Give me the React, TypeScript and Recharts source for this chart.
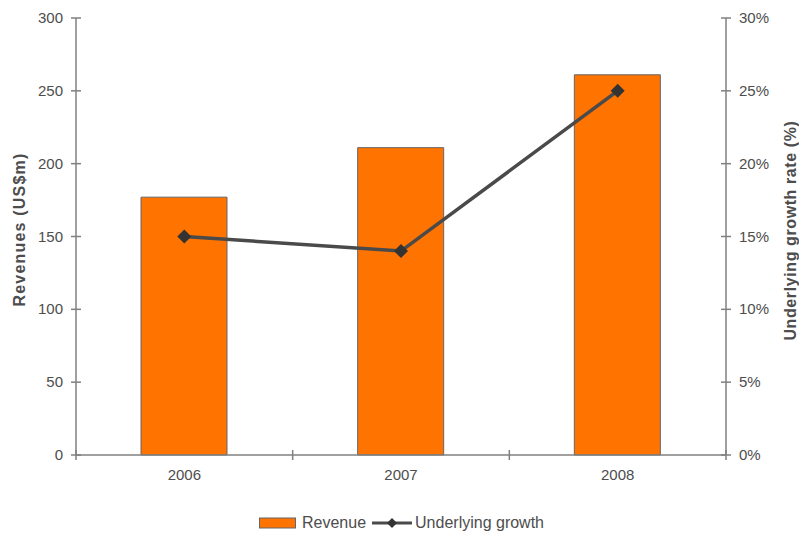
import React from 'react';
import { ComposedChart, Bar, Line, XAxis, YAxis, Legend } from 'recharts';

const years = ['2006', '2007', '2008'];
const revenue = [177, 211, 261];
const growth = [15, 14, 25];
const revenueTicks = [0, 50, 100, 150, 200, 250, 300];
const growthTicks = [0, 5, 10, 15, 20, 25, 30];

const data = years.map((year, i) => ({ year, revenue: revenue[i], growth: growth[i] }));

const FONT = '"Liberation Sans", Arial, Helvetica, sans-serif';
const AXIS = '#808080';
const TEXT = '#4d4d4d';
const ORANGE = '#ff7300';
const LINE = '#4a4a4a';

const W = 799;
const H = 538;
const LEFT_W = 76;
const RIGHT_W = 73;
const TOP = 18;
const XAXIS_H = 40;
const BOTTOM = H - 455 - XAXIS_H;
const BAND = (W - LEFT_W - RIGHT_W) / years.length;

const TICK_SIZE = 6;
const TICK_MARGIN = 7;

const Diamond = ({ cx, cy, r = 6 }: { cx: number; cy: number; r?: number }) => (
  <path d={`M${cx},${cy - r}L${cx + r},${cy}L${cx},${cy + r}L${cx - r},${cy}Z`} fill="#333" />
);

const LeftTick = (p: any) => {
  const ax = p.x + TICK_SIZE + TICK_MARGIN;
  return (
    <g>
      <line x1={ax - 5} x2={ax + 5} y1={p.y} y2={p.y} stroke={AXIS} strokeWidth={1.5} />
      <text x={p.x} y={p.y} dy={5} textAnchor="end" fill={TEXT} fontSize={15} fontFamily={FONT}>
        {p.payload.value}
      </text>
    </g>
  );
};

const RightTick = (p: any) => {
  const ax = p.x - TICK_SIZE - TICK_MARGIN;
  return (
    <g>
      <line x1={ax - 5} x2={ax + 5} y1={p.y} y2={p.y} stroke={AXIS} strokeWidth={1.5} />
      <text x={p.x} y={p.y} dy={5} textAnchor="start" fill={TEXT} fontSize={15} fontFamily={FONT}>
        {`${p.payload.value}%`}
      </text>
    </g>
  );
};

const BottomTick = (p: any) => {
  const ay = p.y - TICK_SIZE - TICK_MARGIN;
  const isLast = p.index === years.length - 1;
  return (
    <g>
      <line x1={p.x - BAND / 2} x2={p.x - BAND / 2} y1={ay - 5} y2={ay + 5} stroke={AXIS} strokeWidth={1.5} />
      {isLast && (
        <line x1={p.x + BAND / 2} x2={p.x + BAND / 2} y1={ay - 5} y2={ay + 5} stroke={AXIS} strokeWidth={1.5} />
      )}
      <text x={p.x} y={p.y} dy={12} textAnchor="middle" fill={TEXT} fontSize={15} fontFamily={FONT}>
        {p.payload.value}
      </text>
    </g>
  );
};

const LegendContent = () => (
  <div
    style={{
      display: 'flex',
      justifyContent: 'center',
      alignItems: 'center',
      fontFamily: FONT,
      fontSize: 16,
      color: TEXT,
      marginLeft: 4,
    }}
  >
    <svg width={38} height={12} style={{ marginRight: 5 }}>
      <rect x={0.5} y={1} width={36} height={10} fill={ORANGE} stroke="#666" />
    </svg>
    <span style={{ marginRight: 6 }}>Revenue</span>
    <svg width={40} height={14} style={{ marginRight: 3 }}>
      <line x1={0} x2={40} y1={7} y2={7} stroke={LINE} strokeWidth={3} />
      <Diamond cx={20} cy={7} r={5} />
    </svg>
    <span>Underlying growth</span>
  </div>
);

export default function App() {
  return (
    <div style={{ position: 'absolute', left: 0, top: 0, width: W, height: H, background: '#fff' }}>
      <ComposedChart width={W} height={H} data={data} margin={{ top: TOP, right: 0, bottom: BOTTOM, left: 0 }}>
        <XAxis
          dataKey="year"
          height={XAXIS_H}
          stroke={AXIS}
          strokeWidth={1.5}
          tickLine={false}
          tickSize={TICK_SIZE}
          tickMargin={TICK_MARGIN}
          tick={BottomTick}
          interval={0}
        />
        <YAxis
          yAxisId="left"
          width={LEFT_W}
          domain={[0, 300]}
          ticks={revenueTicks}
          stroke={AXIS}
          strokeWidth={1.5}
          tickLine={false}
          tickSize={TICK_SIZE}
          tickMargin={TICK_MARGIN}
          tick={LeftTick}
          interval={0}
          label={{
            value: 'Revenues (US$m)',
            angle: -90,
            position: 'insideLeft',
            dx: 14,
            dy: -7,
            style: {
              textAnchor: 'middle',
              fill: TEXT,
              fontSize: 16,
              letterSpacing: 1.2,
              fontWeight: 'bold',
              fontFamily: FONT,
            },
          }}
        />
        <YAxis
          yAxisId="right"
          orientation="right"
          width={RIGHT_W}
          domain={[0, 30]}
          ticks={growthTicks}
          stroke={AXIS}
          strokeWidth={1.5}
          tickLine={false}
          tickSize={TICK_SIZE}
          tickMargin={TICK_MARGIN}
          tick={RightTick}
          interval={0}
          label={{
            value: 'Underlying growth rate (%)',
            angle: -90,
            position: 'insideRight',
            dx: -4,
            dy: -6,
            style: {
              textAnchor: 'middle',
              fill: TEXT,
              fontSize: 16,
              letterSpacing: 0.6,
              fontWeight: 'bold',
              fontFamily: FONT,
            },
          }}
        />
        <Bar
          yAxisId="left"
          dataKey="revenue"
          name="Revenue"
          fill={ORANGE}
          stroke="#666"
          strokeWidth={1}
          barSize={86}
          isAnimationActive={false}
        />
        <Line
          yAxisId="right"
          dataKey="growth"
          name="Underlying growth"
          stroke={LINE}
          strokeWidth={3.5}
          type="linear"
          dot={(p: any) => <Diamond key={p.index} cx={p.cx} cy={p.cy} r={7} />}
          activeDot={false}
          isAnimationActive={false}
        />
        <Legend
          layout="horizontal"
          verticalAlign="middle"
          content={LegendContent}
          wrapperStyle={{ position: 'absolute', top: 514, left: 0, width: W, height: 20 }}
        />
      </ComposedChart>
    </div>
  );
}
